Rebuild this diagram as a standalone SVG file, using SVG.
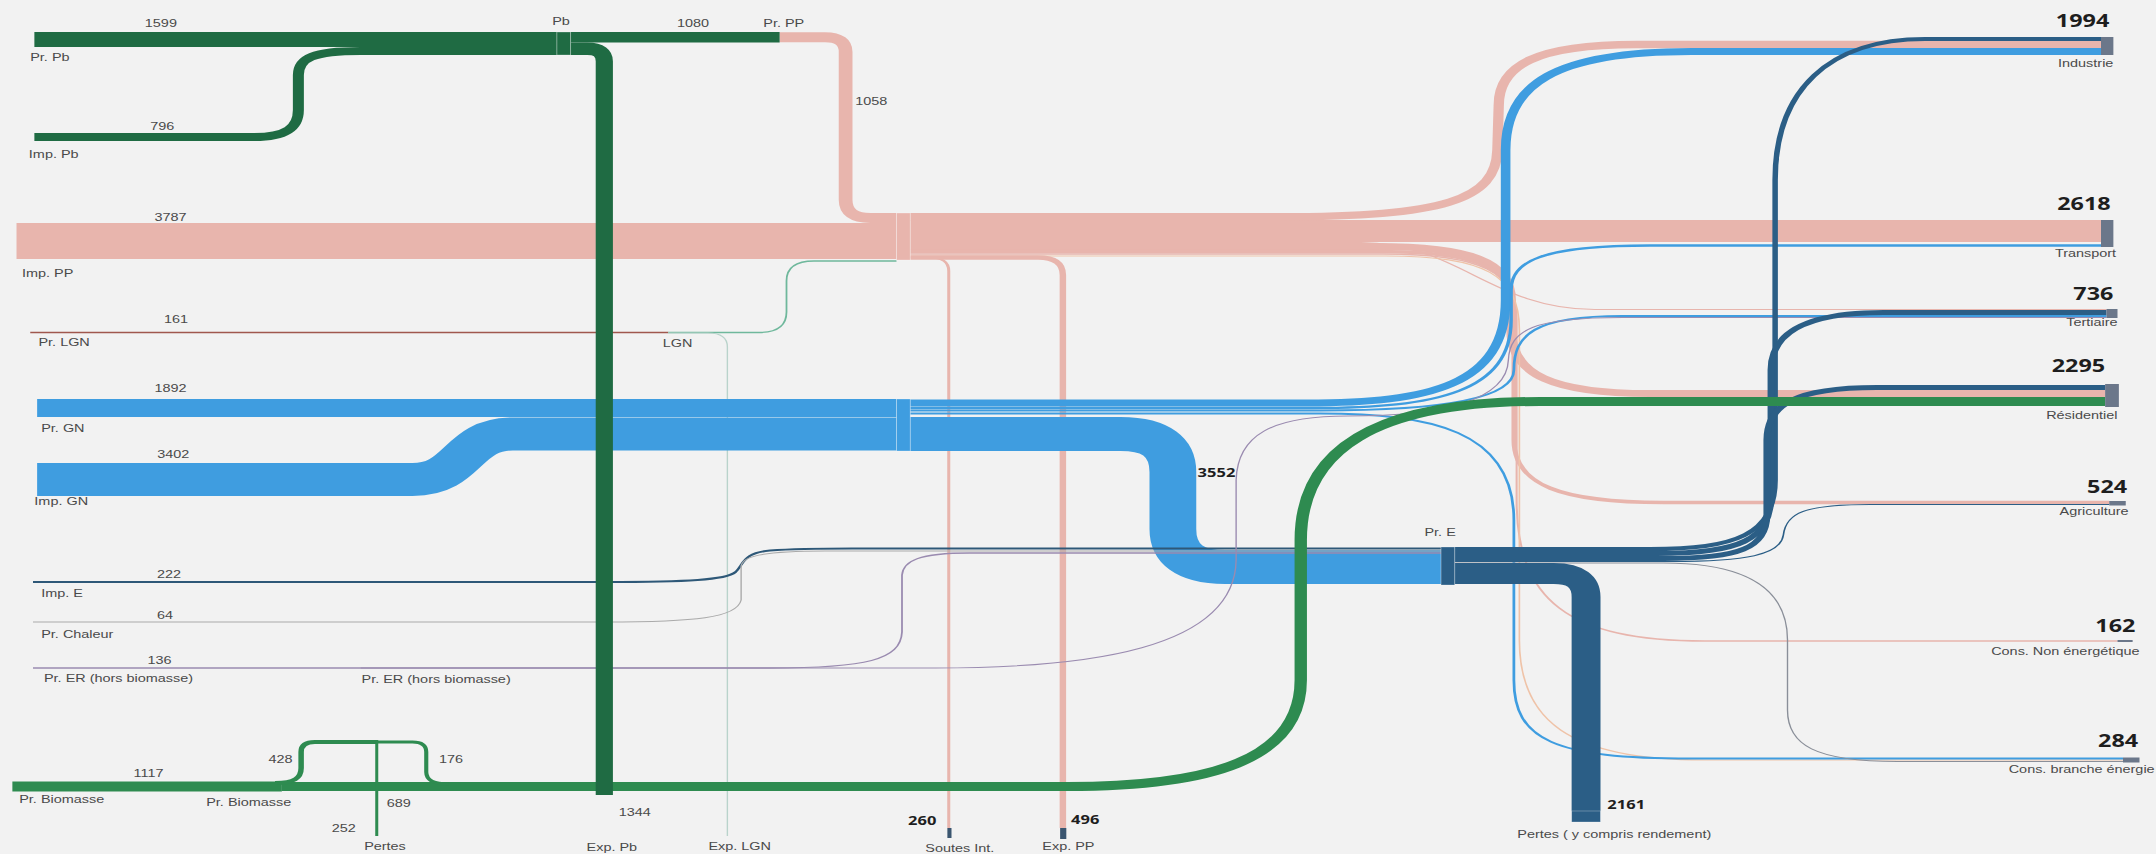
<svg xmlns="http://www.w3.org/2000/svg" width="2156" height="854" viewBox="0 0 2156 854">
<style>
.lk{fill:none}
.pb{stroke:#1f6b43}
.pp{stroke:#e8b5ad}
.gn{stroke:#3f9de0}
.el{stroke:#2b5e86}
.bio{stroke:#2e8b50}
.t{font-family:"Liberation Sans",Arial,sans-serif;font-size:10.5px;fill:#4a4a4a}
.b{font-family:"Open Sans","Liberation Sans",sans-serif;font-weight:700;fill:#1e1e1e}
.big{font-size:17px}
.mid{font-size:12px}
.m{text-anchor:middle}
.e{text-anchor:end}
.nb{fill:#6b778a}
.edge{stroke:#ffffff;stroke-opacity:0.45;stroke-width:0.6}
</style>
<rect x="0" y="0" width="2156" height="854" fill="#f2f2f2"/>
<g transform="scale(1.375 1)">
<g id="connectors">
  <!-- PP links -->
  <path class="lk pp" stroke-width="36" d="M12,241 H652"/>
  <path class="lk pp" stroke-width="10" d="M567,37.25 H600 Q615,37.25 615,52 V200 Q615,218 633,218 H652"/>
  <path class="lk pp" stroke-width="22" d="M662,231 H1528"/>
  <path class="lk pp" stroke-width="7.5" d="M662,216.75 H930 C1050,216.75 1088,200 1089,150 L1090,105 C1090,65 1118,44.5 1190,44.5 H1528"/>
  <path class="lk pp" stroke-width="1.2" d="M662,242.5 H990 C1060,242.5 1085,309.5 1160,309.5 H1532"/>
  <path class="lk pp" stroke-width="7" d="M662,246.5 H1000 C1070,246.5 1099,262 1099,300 V330 C1099,375 1130,393.5 1200,393.5 H1531"/>
  <path class="lk pp" stroke-width="3.5" d="M662,251.5 H1003 C1075,251.5 1101,268 1101,310 V440 C1101,485 1135,502.5 1210,502.5 H1534"/>
  <path class="lk pp" stroke-width="1.5" d="M662,254 H1006 C1078,254 1103,272 1103,320 V500 C1103,600 1140,641 1240,641 H1540"/>
  <path class="lk" stroke="#efc3a8" stroke-width="1.2" d="M662,256 H1008 C1080,256 1105,275 1105,330 V640 C1105,720 1140,760 1240,760 H1544"/>
  <path class="lk pp" stroke-width="2.2" d="M662,257.5 H676 Q690,257.5 690,271 V828"/>
  <path class="lk pp" stroke-width="4.7" d="M662,257.5 H755 Q773,257.5 773,275 V828"/>
  <!-- LGN links -->
  <path class="lk" stroke="#a0574e" stroke-width="1.5" d="M22,332.5 H486"/>
  <path class="lk" stroke="#6fb89c" stroke-width="1.3" d="M486,332.5 H552 Q572,332.5 572,312 V281 Q572,261 592,261 H652"/>
  <path class="lk" stroke="#b9d3cb" stroke-width="1" d="M486,333 H515 Q529,333 529,347 V836"/>
  <!-- GN links -->
  <path class="lk gn" stroke-width="18" d="M27,408 H652"/>
  <path class="lk gn" stroke-width="33" d="M27,479.5 H300 C338,479.5 335,434 373,434 H652"/>
  <path class="lk gn" stroke-width="34" d="M662,434 H815 Q853,434 853,472 V529 Q853,567 891,567 H1048"/>
  <path class="lk gn" stroke-width="7" d="M662,403 H950 C1040,403 1095,385 1095,300 V150 C1095,85 1130,51.5 1230,51.5 H1528"/>
  <path class="lk gn" stroke-width="2.5" d="M662,408 H955 C1045,408 1099,392 1099,320 V290 C1099,262 1120,245.5 1200,245.5 H1528"/>
  <path class="lk gn" stroke-width="2" d="M662,410.5 H960 C1050,410.5 1101,398 1101,370 C1101,335 1115,316 1180,316 H1532"/>
  <path class="lk gn" stroke-width="2" d="M662,413.5 H960 C1040,413.5 1101,430 1101,520 V680 C1101,740 1130,758.5 1230,758.5 H1544"/>
  <!-- Imp. E, Chaleur, ER -->
  <path class="lk" stroke="#2e5878" stroke-width="2" d="M24,582 H440 C500,582 528,580 535,572 C541,564 540,553 560,550.5 C575,549 590,548.5 620,548.5 H1048"/>
  <path class="lk" stroke="#aaaaaa" stroke-width="1" d="M24,622 H440 C505,622 536,618 539,600 V566 C540,557 552,551 600,551 H1048"/>
  <path class="lk" stroke="#9a8bb0" stroke-width="1.3" d="M24,668 H262"/>
  <path class="lk" stroke="#9a8bb0" stroke-width="1.3" d="M262,668 H560 C630,668 655,660 656,632 V575 C657,561 668,553 705,553 H1048"/>
  <path class="lk" stroke="#9a8bb0" stroke-width="1" d="M262,668 H680 C790,668 898,650 899,560 V480 C900,435 925,416 980,416 C1050,416 1096,400 1097,360 C1098,330 1115,317.5 1180,317.5 H1532"/>
  <!-- E links -->
  <path class="lk el" stroke-width="4" d="M1058,549 H1200 C1262,549 1291,535 1291,480 V180 C1291,90 1330,39 1400,39 H1528"/>
  <path class="lk el" stroke-width="5" d="M1058,553.5 H1205 C1265,553.5 1288,540 1288,495 V370 C1288,335 1310,312.5 1370,312.5 H1532"/>
  <path class="lk el" stroke-width="5" d="M1058,558.5 H1210 C1265,558.5 1285,548 1285,515 V440 C1285,405 1305,387.5 1365,387.5 H1531"/>
  <path class="lk el" stroke-width="1.2" d="M1058,561.5 H1215 C1270,561.5 1295,555 1297,535 C1299,513 1312,504.5 1360,504.5 H1534"/>
  <path class="lk" stroke="#8a8f99" stroke-width="1" d="M1058,563 H1210 C1265,563 1300,585 1300,640 V710 C1300,745 1320,761.5 1380,761.5 H1544"/>
  <path class="lk el" stroke-width="21" d="M1058,573.5 H1130 Q1153.5,573.5 1153.5,597 V811"/>
  <!-- Biomass links -->
  <path class="lk bio" stroke-width="10" d="M9,786.5 H205"/>
  <path class="lk bio" stroke-width="9" d="M205,786.5 H776 C880,786.5 946,760 946,680 V540 C946,450 1000,401.5 1120,401.5 H1531"/>
  <path class="lk bio" stroke-width="4" d="M200,783 C214,783 219,778 219,768 V752 Q219,742 229,742 H274"/>
  <path class="lk bio" stroke-width="3" d="M274,742 H300 Q310,742 310,752 V772 C310,780 315,784 326,784"/>
  <path class="lk bio" stroke-width="2.2" d="M274,740 V836"/>
  <!-- Pb links -->
  <path class="lk pb" stroke-width="15" d="M25,39.5 H405"/>
  <path class="lk pb" stroke-width="8" d="M25,137 H185 C208,137 217,128 217,110 V75 C217,58 228,51 262,51 H405"/>
  <path class="lk pb" stroke-width="10.5" d="M415,37.25 H567"/>
  <path class="lk pb" stroke-width="12.5" d="M415,48.75 H427 Q439.5,48.75 439.5,61.25 V795"/>
</g>

<g id="node-pr-pb"><text class="t m" x="117" y="27">1599</text><text class="t" x="22" y="61">Pr. Pb</text></g>
<g id="node-imp-pb"><text class="t m" x="118" y="130">796</text><text class="t" x="21" y="158">Imp. Pb</text></g>
<g id="node-pb"><rect x="405" y="32" width="10" height="23" fill="#1f6b43" class="edge"/><text class="t m" x="408" y="25">Pb</text><text class="t m" x="504" y="27">1080</text></g>
<g id="node-pr-pp"><text class="t m" x="570" y="27">Pr. PP</text><text class="t" x="622" y="105">1058</text></g>
<g id="node-imp-pp"><text class="t m" x="124" y="221">3787</text><text class="t" x="16" y="277">Imp. PP</text></g>
<g id="node-pp"><rect x="652" y="213" width="10" height="47" fill="#e8b5ad" class="edge"/></g>
<g id="node-pr-lgn"><text class="t m" x="128" y="323">161</text><text class="t" x="28" y="346">Pr. LGN</text></g>
<g id="node-lgn"><text class="t" x="482" y="347">LGN</text></g>
<g id="node-pr-gn"><text class="t m" x="124" y="392">1892</text><text class="t" x="30" y="432">Pr. GN</text></g>
<g id="node-imp-gn"><text class="t m" x="126" y="458">3402</text><text class="t" x="25" y="505">Imp. GN</text></g>
<g id="node-gn"><rect x="652" y="399" width="10" height="52" fill="#3f9de0" class="edge"/><text class="b mid" x="871" y="477">3552</text></g>
<g id="node-imp-e"><text class="t m" x="123" y="578">222</text><text class="t" x="30" y="597">Imp. E</text></g>
<g id="node-pr-chaleur"><text class="t m" x="120" y="619">64</text><text class="t" x="30" y="638">Pr. Chaleur</text></g>
<g id="node-pr-er"><text class="t m" x="116" y="664">136</text><text class="t" x="32" y="682">Pr. ER (hors biomasse)</text></g>
<g id="node-pr-er2"><text class="t" x="263" y="683">Pr. ER (hors biomasse)</text></g>
<g id="node-pr-e"><rect x="1048" y="547" width="10" height="38" fill="#2b5e86" class="edge"/><text class="t" x="1036" y="536">Pr. E</text></g>
<g id="node-pr-biomasse"><text class="t m" x="108" y="777">1117</text><text class="t" x="14" y="803">Pr. Biomasse</text></g>
<g id="node-pr-biomasse2"><text class="t" x="150" y="806">Pr. Biomasse</text><text class="t m" x="204" y="763">428</text><text class="t m" x="328" y="763">176</text><text class="t m" x="290" y="807">689</text></g>
<g id="node-pertes"><text class="t m" x="250" y="832">252</text><text class="t m" x="280" y="850">Pertes</text></g>
<g id="node-exp-pb"><text class="t" x="450" y="816">1344</text><text class="t m" x="445" y="851">Exp. Pb</text></g>
<g id="node-exp-lgn"><text class="t m" x="538" y="850">Exp. LGN</text></g>
<g id="node-soutes"><rect x="689" y="828" width="3" height="10" fill="#3b5670"/><text class="b mid e" x="681" y="825">260</text><text class="t m" x="698" y="852">Soutes Int.</text></g>
<g id="node-exp-pp"><rect x="771" y="828" width="4.5" height="11" fill="#3b5670"/><text class="b mid" x="779" y="824">496</text><text class="t m" x="777" y="850">Exp. PP</text></g>
<g id="node-pertes-e"><rect x="1143" y="811" width="21" height="11" fill="#2b5e86" class="edge"/><text class="b mid" x="1169" y="809">2161</text><text class="t m" x="1174" y="838">Pertes ( y compris rendement)</text></g>
<g id="node-industrie"><rect class="nb" x="1528" y="37" width="9" height="18"/><text class="b big e" x="1534" y="27">1994</text><text class="t e" x="1537" y="67">Industrie</text></g>
<g id="node-transport"><rect class="nb" x="1528" y="220" width="9" height="27"/><text class="b big e" x="1535" y="210">2618</text><text class="t e" x="1539" y="257">Transport</text></g>
<g id="node-tertiaire"><rect class="nb" x="1532" y="309" width="8" height="9"/><text class="b big e" x="1537" y="300">736</text><text class="t e" x="1540" y="326">Tertiaire</text></g>
<g id="node-residentiel"><rect class="nb" x="1531" y="384" width="10" height="23"/><text class="b big e" x="1531" y="372">2295</text><text class="t e" x="1540" y="419">Résidentiel</text></g>
<g id="node-agriculture"><rect class="nb" x="1534" y="501" width="12" height="4.5"/><text class="b big e" x="1547" y="493">524</text><text class="t e" x="1548" y="515">Agriculture</text></g>
<g id="node-non-energetique"><rect class="nb" x="1540" y="640" width="11" height="2"/><text class="b big e" x="1553" y="632">162</text><text class="t e" x="1556" y="655">Cons. Non énergétique</text></g>
<g id="node-branche"><rect class="nb" x="1544" y="757.5" width="12" height="5"/><text class="b big e" x="1555" y="747">284</text><text class="t e" x="1567" y="773">Cons. branche énergie</text></g>
</g>
</svg>
